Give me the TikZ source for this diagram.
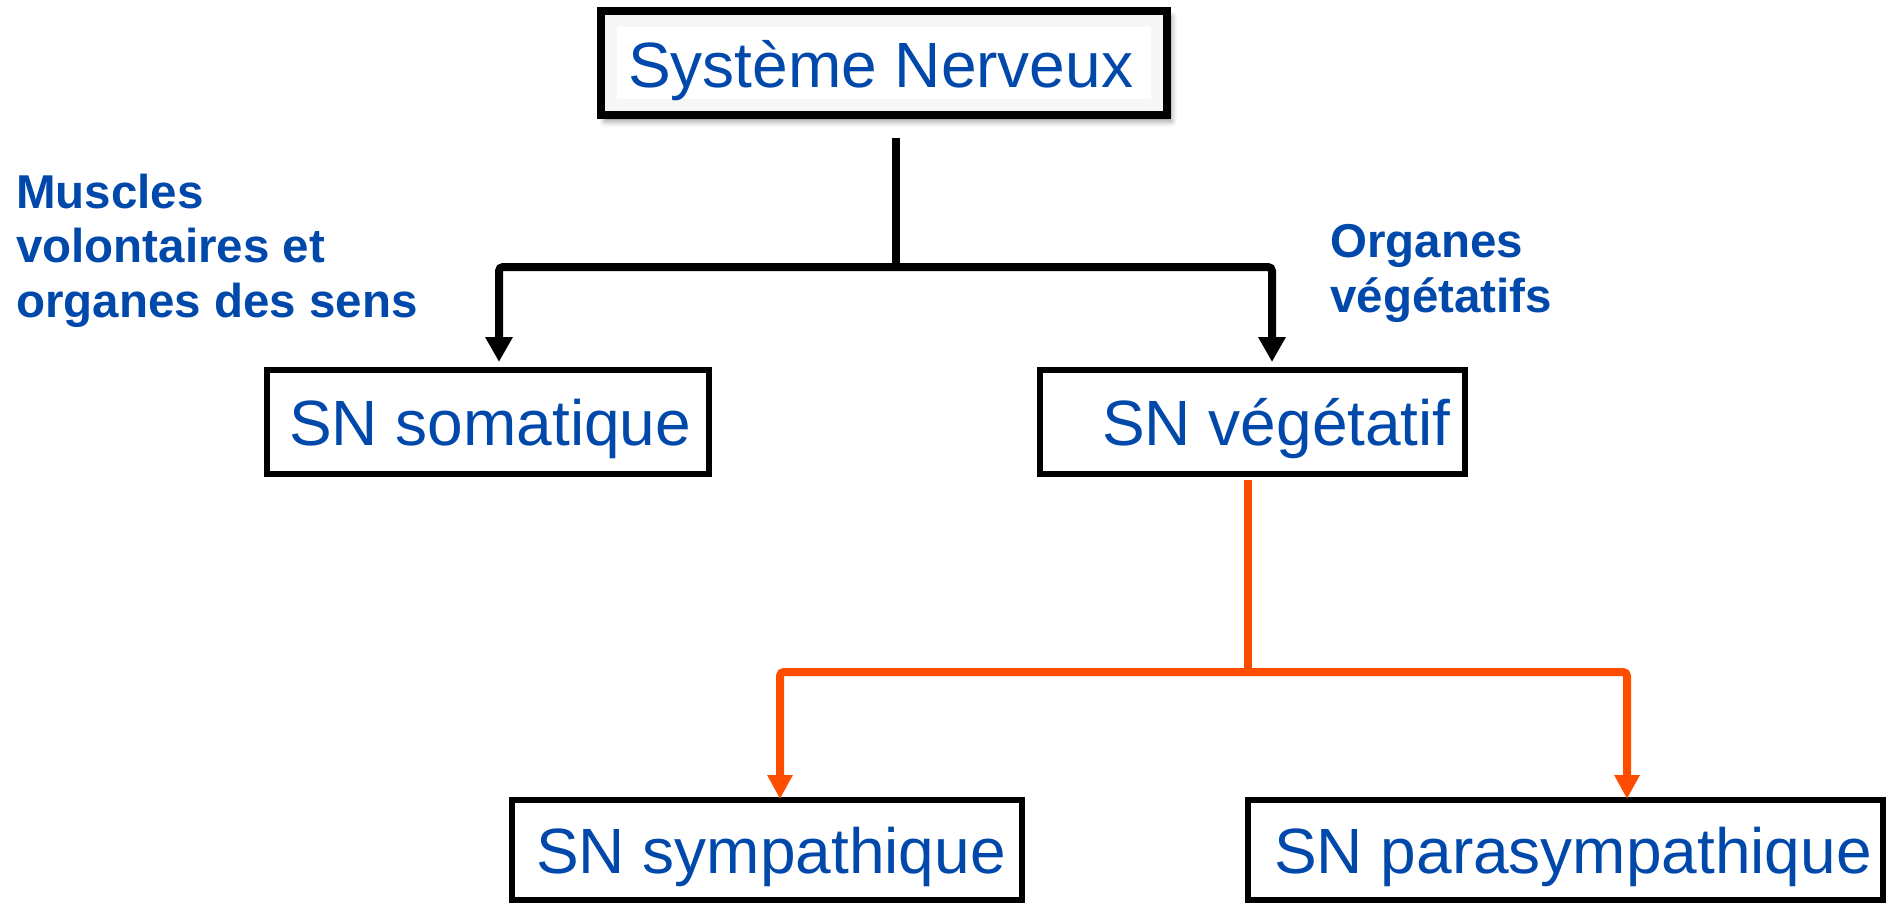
\documentclass[tikz,border=0pt]{standalone}
\usepackage{fontspec}
\setmainfont{Liberation Sans}
\usetikzlibrary{arrows.meta,shadows.blur}
\definecolor{snblue}{RGB}{0,72,170}
\definecolor{snorange}{RGB}{255,77,0}
\tikzset{
  boxframe/.style={rectangle, draw=black, line width=6pt, fill=white, inner sep=0pt},
  boxtext/.style={anchor=base west, inner sep=0pt, text=snblue,
    font=\fontsize{64}{77}\selectfont},
  sidetext/.style={anchor=base west, inner sep=0pt, text=snblue, align=left,
    font=\bfseries\fontsize{47.5}{54.5}\selectfont},
  blackconn/.style={draw=black, line width=8pt, rounded corners=4pt},
  orangeconn/.style={draw=snorange, line width=8pt, rounded corners=4pt},
  blacktip/.style={{Triangle[width=26pt,length=25pt]}-{Triangle[width=26pt,length=25pt]}},
  orangetip/.style={{Triangle[width=24pt,length=24pt]}-{Triangle[width=24pt,length=24pt]}},
}
\begin{document}
\begin{tikzpicture}[x=1pt,y=-1pt]
\useasboundingbox (0,0) rectangle (1890,903);

% top box with drop shadow and soft inner shading
\node[boxframe, line width=8pt, minimum width=566pt, minimum height=104pt,
  blur shadow={shadow xshift=4pt, shadow yshift=-6pt, shadow blur radius=6pt, shadow opacity=45}]
  (top) at (884,63) {};
\foreach \k in {1,...,6}
  \draw[black, opacity=0.035, line width=2pt]
    (605+2*\k-1, 15+2*\k-1) rectangle (1163-2*\k+1, 111-2*\k+1);
\node[boxtext] (toptext) at (628,87) {Système Nerveux};

% second level
\node[boxframe, minimum width=442pt, minimum height=104pt] (soma) at (488,422) {};
\node[boxtext] (somatext) at (289,445) {SN somatique};
\node[boxframe, minimum width=425pt, minimum height=104pt] (veg) at (1252.5,422) {};
\node[boxtext] (vegtext) at (1102,445) {SN végétatif};

% third level
\node[boxframe, minimum width=510pt, minimum height=100pt] (symp) at (767,850) {};
\node[boxtext] (symptext) at (536,873) {SN sympathique};
\node[boxframe, minimum width=635pt, minimum height=100pt] (para) at (1565.5,850) {};
\node[boxtext] (paratext) at (1274,873) {SN parasympathique};

% side labels (base anchor sits on the last line)
\node[sidetext] (lab1) at (16,317) {Muscles\\volontaires et\\organes des sens};
\node[sidetext] (lab2) at (1330,312) {Organes\\végétatifs};

% black connectors
\coordinate (nvtop) at (896,138);
\coordinate (njoin) at (896,267);
\coordinate (tipL) at (499,362);
\coordinate (tipR) at (1272,362);
\draw[blackconn] (nvtop) -- (njoin);
\draw[blackconn, blacktip] (tipL) |- (njoin) -| (tipR);

% orange connectors
\coordinate (ovtop) at (1248,480);
\coordinate (ojoin) at (1248,672);
\coordinate (otipL) at (780,799);
\coordinate (otipR) at (1627,799);
\draw[orangeconn] (ovtop) -- (ojoin);
\draw[orangeconn, orangetip] (otipL) |- (ojoin) -| (otipR);
\end{tikzpicture}
\end{document}
